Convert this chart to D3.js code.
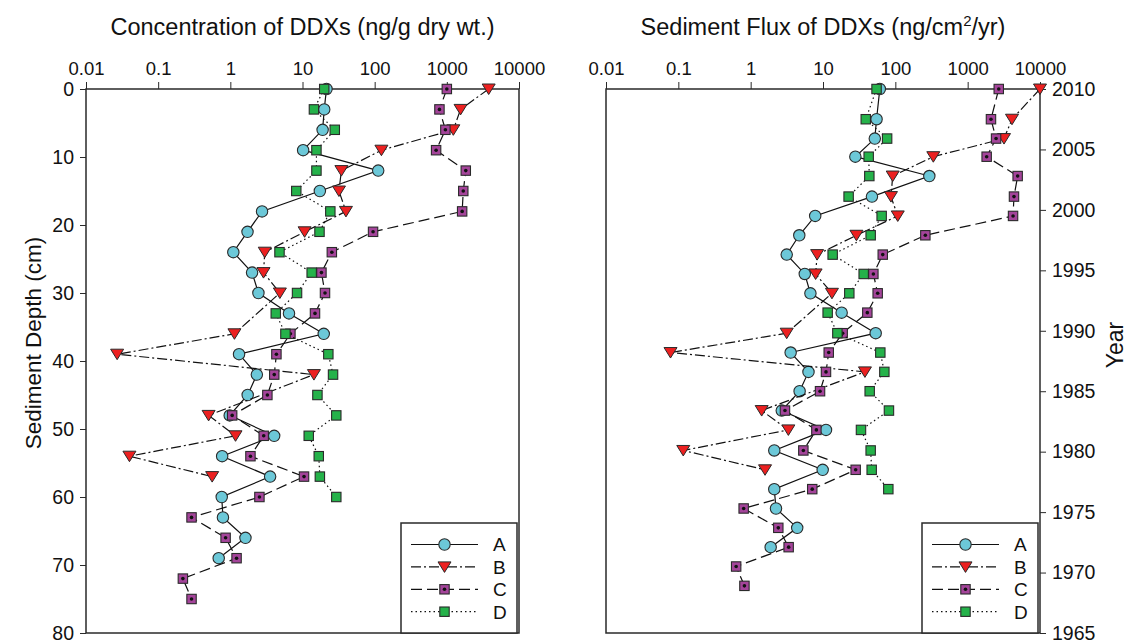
<!DOCTYPE html>
<html>
<head>
<meta charset="utf-8">
<script src="https://cdn.jsdelivr.net/npm/d3@7"></script>
<style>
  body { margin: 0; background: #fff; }
  svg text { font-family: "Liberation Sans", Arial, sans-serif; fill: #111; }
</style>
</head>
<body>
<div id="vis"></div>
<script>
'use strict'

////////////////////////////////////////
///////////////// Data /////////////////
////////////////////////////////////////

// one entry per core slice: depth (cm) and its dated year
const depth = [0, 3, 6, 9, 12, 15, 18, 21, 24, 27, 30, 33, 36, 39, 42, 45, 48, 51, 54, 57, 60, 63, 66, 69, 72, 75]
const year = [2010.0, 2007.5, 2005.9, 2004.4, 2002.8, 2001.1, 1999.5, 1997.9, 1996.3, 1994.7, 1993.1, 1991.5, 1989.8,
  1988.2, 1986.6, 1985.0, 1983.4, 1981.8, 1980.1, 1978.5, 1976.9, 1975.3, 1973.7, 1972.1, 1970.5, 1968.9]

const seriesNames = ["A", "B", "C", "D"]

// concentration of DDXs (ng/g dry wt.), null = not reported
const concA = [21.5, 20, 19, 10.2, 112, 17.4, 2.75, 1.73, 1.1, 2.0, 2.45, 6.5, 19.7, 1.32, 2.33, 1.74, 0.98, 4.05, 0.77, 3.56, 0.76, 0.79, 1.62, 0.69]
const concB = [3800, 1550, 1230, 124, 34.6, 32, 40, 10.7, 3.0, 2.88, 4.86, null, 1.14, 0.027, 14.4, null, 0.50, 1.18, 0.040, 0.56]
const concC = [1000, 790, 955, 710, 1830, 1690, 1630, 95, 25.5, 18.3, 20.5, 14.9, 6.8, 4.35, 4.06, 3.26, 1.06, 2.9, 1.9, 10.5, 2.53, 0.29, 0.86, 1.22, 0.22, 0.29]
const concD = [20, 14.4, 28, 15.6, 15.6, 8.2, 24.3, 17.2, 4.8, 13.4, 8.4, 4.26, 5.8, 22.8, 26.5, 16.1, 29.4, 12.2, 16.8, 17.4, 29.4]

// sediment flux of DDXs (ng/cm2/yr)
const fluxA = [61, 55, 52, 28, 295, 47.5, 7.8, 4.7, 3.15, 5.6, 6.7, 18.1, 53.5, 3.57, 6.3, 4.75, 2.69, 11, 2.12, 9.9, 2.12, 2.24, 4.4, 1.89]
const fluxB = [10000, 4100, 3180, 335, 92, 87, 108, 29, 8.3, 7.9, 13.3, null, 3.15, 0.078, 38, null, 1.42, 3.32, 0.117, 1.58]
const fluxC = [2690, 2100, 2470, 1830, 4910, 4370, 4240, 260, 67, 49.7, 57, 41, 18.7, 12, 11, 9.1, 2.98, 8.1, 5.35, 28.3, 7.1, 0.80, 2.41, 3.35, 0.63, 0.82]
const fluxD = [55, 39, 77, 42.8, 43.7, 22.6, 64.7, 45.6, 13.6, 36.5, 23.1, 11.6, 15.8, 62, 70.5, 44.2, 81.6, 33.5, 45.6, 47.1, 80]

const xTicks = [0.01, 0.1, 1, 10, 100, 1000, 10000]
const xTickLabels = ["0.01", "0.1", "1", "10", "100", "1000", "10000"]
const depthTicks = [0, 10, 20, 30, 40, 50, 60, 70, 80]
const yearTicks = [2010, 2005, 2000, 1995, 1990, 1985, 1980, 1975, 1970, 1965]

////////////////////////////////////////
/////////////// Styles /////////////////
////////////////////////////////////////

const styles = {
  A: { shape: "circle", fill: "#6cc8d8", dash: null },
  B: { shape: "triangle", fill: "#ec2020", dash: "10,3,2,3" },
  C: { shape: "square", fill: "#a4449a", dash: "11,5", dot: true },
  D: { shape: "square", fill: "#25b24a", dash: "1.5,3" }
}

const width = 1135
const height = 640
const plotTop = 89
const plotBottom = 633
const ink = "#2a2a2a"

const svg = d3.select("#vis").append("svg")
  .attr("width", width)
  .attr("height", height)

////////////////////////////////////////
////////////// Helpers /////////////////
////////////////////////////////////////

function marker(g, s, cx, cy) {
  if (s.shape == "circle") {
    g.append("circle").attr("cx", cx).attr("cy", cy).attr("r", 5.7)
      .attr("fill", s.fill).attr("stroke", ink).attr("stroke-width", 1.1)
  } else if (s.shape == "triangle") {
    g.append("path")
      .attr("d", `M${cx - 6.5},${cy - 5}L${cx + 6.5},${cy - 5}L${cx},${cy + 5.5}Z`)
      .attr("fill", s.fill).attr("stroke", ink).attr("stroke-width", 1)
  } else {
    g.append("rect").attr("x", cx - 4.7).attr("y", cy - 4.7).attr("width", 9.4).attr("height", 9.4)
      .attr("fill", s.fill).attr("stroke", ink).attr("stroke-width", 1.1)
    if (s.dot) {
      g.append("circle").attr("cx", cx).attr("cy", cy).attr("r", 1.8).attr("fill", "#111")
    }
  }
}

function drawPanel(opts) {

  const x = d3.scaleLog().domain([0.01, 10000]).range([opts.left, opts.right])
  const y = d3.scaleLinear().domain(opts.yDomain).range([plotTop, plotBottom])

  const g = svg.append("g")

  // top log axis
  g.append("g")
    .attr("transform", `translate(0,${plotTop})`)
    .call(d3.axisTop(x).tickValues(xTicks).tickFormat((d, i) => xTickLabels[i]).tickSize(7).tickSizeOuter(0).tickPadding(7))
    .call(a => a.select(".domain").remove())
    .call(a => a.selectAll("line").attr("stroke", ink))
    .call(a => a.selectAll("text").attr("font-size", 18.5).attr("fill", "#111"))

  // vertical axis
  const yAxis = opts.axisSide == "left" ? d3.axisLeft(y) : d3.axisRight(y)
  g.append("g")
    .attr("transform", `translate(${opts.axisSide == "left" ? opts.left : opts.right},0)`)
    .call(yAxis.tickValues(opts.yTicks).tickFormat(d3.format("d")).tickSize(6).tickSizeOuter(0).tickPadding(6))
    .call(a => a.select(".domain").remove())
    .call(a => a.selectAll("line").attr("stroke", ink))
    .call(a => a.selectAll("text").attr("font-size", 19.5).attr("fill", "#111"))

  // frame
  g.append("rect")
    .attr("x", opts.left).attr("y", plotTop)
    .attr("width", opts.right - opts.left).attr("height", plotBottom - plotTop)
    .attr("fill", "none").attr("stroke", ink).attr("stroke-width", 1.5)

  // title
  const title = g.append("text")
    .attr("x", (opts.left + opts.right) / 2).attr("y", 35)
    .attr("text-anchor", "middle").attr("font-size", 23.5)
  opts.title(title)

  // series
  const line = d3.line().x(d => x(d.v)).y(d => y(d.y))

  opts.values.forEach((vals, i) => {
    const s = styles[seriesNames[i]]
    const pts = vals.map((v, k) => ({ v: v, y: opts.yValues[k] })).filter(d => d.v != null)
    const sg = g.append("g")
    sg.append("path")
      .datum(pts)
      .attr("d", line)
      .attr("fill", "none")
      .attr("stroke", "#111")
      .attr("stroke-width", 1.2)
      .attr("stroke-dasharray", s.dash)
    pts.forEach(d => marker(sg, s, x(d.v), y(d.y)))
  })

  // legend
  const lw = 116, lh = 110
  const lx = opts.right - 2 - lw, ly = plotBottom - lh
  const lg = g.append("g").attr("transform", `translate(${lx},${ly})`)
  lg.append("rect").attr("width", lw).attr("height", lh)
    .attr("fill", "#fff").attr("stroke", ink).attr("stroke-width", 1.5)
  seriesNames.forEach((name, i) => {
    const s = styles[name]
    const ry = 21.5 + i * 22.4
    lg.append("line").attr("x1", 10).attr("x2", 77).attr("y1", ry).attr("y2", ry)
      .attr("stroke", "#111").attr("stroke-width", 1.2).attr("stroke-dasharray", s.dash)
    marker(lg, s, 43.5, ry)
    lg.append("text").attr("x", 92).attr("y", ry).attr("dy", "0.36em")
      .attr("font-size", 19).text(name)
  })
}

////////////////////////////////////////
/////////////// Panels /////////////////
////////////////////////////////////////

drawPanel({
  left: 86, right: 519,
  yDomain: [0, 80], yTicks: depthTicks, yValues: depth, axisSide: "left",
  values: [concA, concB, concC, concD],
  title: t => t.text("Concentration of DDXs (ng/g dry wt.)")
})

drawPanel({
  left: 606, right: 1040,
  yDomain: [2010, 1965], yTicks: yearTicks, yValues: year, axisSide: "right",
  values: [fluxA, fluxB, fluxC, fluxD],
  title: t => {
    t.append("tspan").text("Sediment Flux of DDXs (ng/cm")
    t.append("tspan").attr("dy", -9).attr("font-size", 15).text("2")
    t.append("tspan").attr("dy", 9).text("/yr)")
  }
})

// axis titles
svg.append("text")
  .attr("transform", `translate(41,343) rotate(-90)`)
  .attr("text-anchor", "middle").attr("font-size", 22.5)
  .text("Sediment Depth (cm)")

svg.append("text")
  .attr("transform", `translate(1123,345) rotate(-90)`)
  .attr("text-anchor", "middle").attr("font-size", 23)
  .text("Year")
</script>
</body>
</html>
